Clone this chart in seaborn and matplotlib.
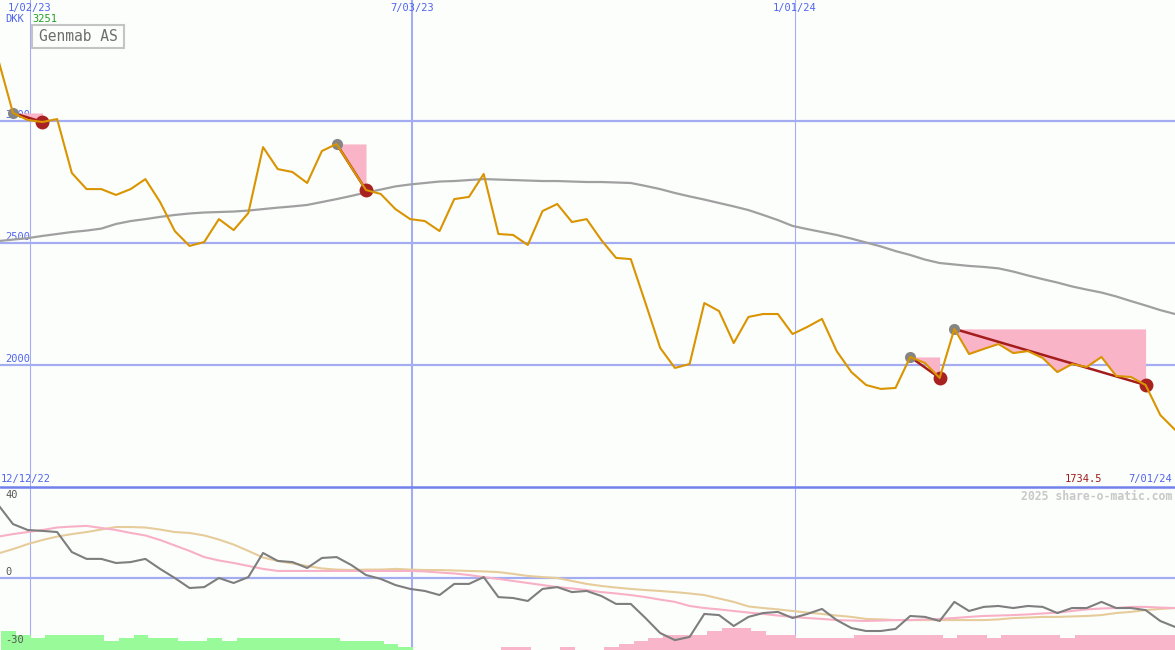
import pandas as pd
import numpy as np
import seaborn as sns
import matplotlib.pyplot as plt
from matplotlib.patches import Rectangle
from matplotlib.lines import Line2D

# --- data: weekly points, first one sits just left of the frame ---
first_week = "2022-12-18"

price = [3251, 3033, 3004, 2996, 3008, 2787, 2721, 2721, 2697, 2721,
         2762, 2668, 2549, 2488, 2504, 2598, 2553, 2623, 2893, 2803,
         2791, 2746, 2877, 2906, 2811, 2717, 2701, 2639, 2598, 2590,
         2549, 2680, 2689, 2783, 2537, 2533, 2492, 2631, 2660, 2586,
         2598, 2512, 2439, 2434, 2254, 2070, 1988, 2004, 2254, 2221,
         2090, 2197, 2209, 2209, 2127, 2156, 2189, 2057, 1971, 1918,
         1902, 1906, 2033, 2008, 1947, 2148, 2045, 2066, 2086, 2049,
         2057, 2029, 1971, 2004, 1992, 2033, 1955, 1951, 1918, 1795, 1734.5]

moving_avg = [2508, 2514, 2520, 2529, 2537, 2545, 2551, 2559, 2578, 2590,
              2598, 2607, 2615, 2621, 2625, 2627, 2629, 2633, 2639, 2645,
              2650, 2656, 2668, 2680, 2693, 2707, 2719, 2732, 2740, 2746,
              2752, 2754, 2758, 2762, 2760, 2758, 2756, 2754, 2754, 2752,
              2750, 2750, 2748, 2746, 2734, 2721, 2705, 2691, 2678, 2664,
              2650, 2635, 2615, 2594, 2570, 2557, 2545, 2533, 2518, 2502,
              2486, 2467, 2451, 2432, 2418, 2412, 2406, 2402, 2396, 2383,
              2367, 2352, 2338, 2322, 2309, 2297, 2281, 2262, 2244, 2225, 2209]

momentum = [32.1, 23.7, 21.1, 20.7, 20.2, 11.4, 8.4, 8.4, 6.6, 7.0,
            8.4, 4.0, 0.0, -4.4, -4.0, 0.0, -2.2, 0.4, 11.0, 7.5,
            7.0, 4.4, 8.8, 9.2, 5.7, 1.3, -0.4, -3.1, -4.8, -5.7,
            -7.5, -2.6, -2.6, 0.4, -8.4, -8.8, -10.1, -4.8, -4.0, -6.2,
            -5.7, -7.9, -11.4, -11.4, -17.6, -24.2, -27.3, -25.9, -15.8, -16.3,
            -21.1, -17.1, -15.4, -14.9, -17.6, -15.8, -13.6, -18.5, -22.0, -23.3,
            -23.3, -22.4, -16.7, -17.1, -18.9, -10.5, -14.5, -12.7, -12.3, -13.2,
            -12.3, -12.7, -15.4, -13.2, -13.2, -10.5, -13.2, -13.2, -14.1, -18.9, -21.5]

signal_fast = [18.2, 19.3, 20.2, 21.1, 22.2, 22.6, 22.9, 22.0, 21.1, 19.8,
               18.7, 16.7, 14.3, 11.9, 9.2, 7.7, 6.6, 5.3, 4.0, 3.1,
               3.1, 3.1, 3.1, 3.1, 3.1, 3.1, 3.1, 3.1, 3.1, 2.9,
               2.4, 2.0, 1.3, 0.4, -0.4, -1.3, -2.2, -3.1, -4.0, -4.6,
               -5.3, -6.2, -6.8, -7.5, -8.4, -9.5, -10.5, -12.3, -13.2, -13.8,
               -14.5, -15.2, -15.8, -16.5, -17.1, -17.6, -18.0, -18.5, -18.7, -18.9,
               -18.7, -18.5, -18.5, -18.2, -18.0, -17.6, -17.1, -16.7, -16.5, -16.3,
               -16.0, -15.6, -15.2, -14.5, -13.8, -13.4, -13.2, -12.7, -12.7, -13.0, -13.2]

signal_slow = [10.8, 12.7, 14.9, 16.7, 18.2, 19.3, 20.2, 21.3, 22.4, 22.4,
               22.2, 21.3, 20.2, 19.8, 18.7, 16.9, 14.7, 11.9, 9.0, 7.5,
               6.4, 5.3, 4.2, 3.7, 3.5, 3.7, 3.7, 4.0, 3.7, 3.5,
               3.5, 3.3, 3.1, 2.9, 2.6, 1.8, 0.9, 0.4, 0.0, -1.3,
               -2.6, -3.5, -4.2, -4.8, -5.3, -5.7, -6.2, -6.8, -7.5, -9.0,
               -10.5, -12.5, -13.2, -13.8, -14.5, -15.2, -15.8, -16.5, -17.1, -18.0,
               -18.2, -18.5, -18.5, -18.5, -18.5, -18.5, -18.5, -18.5, -18.2, -17.6,
               -17.4, -17.1, -17.1, -16.9, -16.7, -16.3, -15.4, -14.9, -14.1, -13.6, -13.2]

# trend bars along the bottom: top level and colour key (g = up, p = down, "" = none)
bar_level = [-23.3, -25.1, -26.2, -25.1, -25.1, -25.1, -25.1, -27.7, -26.2, -25.1,
             -26.2, -26.2, -27.7, -27.7, -26.2, -27.7, -26.2, -26.2, -26.2, -26.2,
             -26.2, -26.2, -26.2, -27.7, -27.7, -27.7, -29.0, -30.2, np.nan, np.nan,
             np.nan, np.nan, np.nan, np.nan, -30.5, -30.5, np.nan, np.nan, -30.5, np.nan,
             np.nan, -30.5, -29.1, -27.8, -26.5, -25.2, -25.2, -25.2, -23.4, -22.0,
             -22.0, -23.4, -25.2, -25.2, -26.2, -26.2, -26.2, -26.2, -25.2, -25.2,
             -25.2, -25.2, -25.2, -25.2, -26.2, -25.1, -25.1, -26.2, -25.1, -25.1,
             -25.1, -25.1, -26.2, -25.1, -25.1, -25.1, -25.1, -25.1, -25.1, -25.1, -25.1]
bar_trend = ["g"] * 28 + [""] * 6 + ["p"] * 47

# sell signals: peak week -> trough week
signal_start = ["2022-12-25", "2023-05-28", "2024-02-25", "2024-03-17"]
signal_end = ["2023-01-08", "2023-06-11", "2024-03-10", "2024-06-16"]

date_lines = ["2023-01-02", "2023-07-03", "2024-01-01"]
date_labels = ["1/02/23", "7/03/23", "1/01/24"]
price_grid = [3000, 2500, 2000]

# --- styling ---
BG = "#fcfefc"
GRID = "#a4adf2"
BLUE_TXT = "#5064ee"
PRICE_C = "#d99400"
MA_C = "#a0a0a0"
PINK = "#f9b4c8"
DARKRED = "#a41c1c"

sns.set_theme(style="white")
plt.rcParams["font.family"] = ["DejaVu Sans Mono", "DejaVu Sans"]

dates = pd.date_range(first_week, periods=len(price), freq="7D")
df = pd.DataFrame({"date": dates, "price": price, "ma": moving_avg,
                   "mom": momentum, "fast": signal_fast, "slow": signal_slow,
                   "bar": bar_level, "trend": bar_trend})

W, H = 1175, 650
fig = plt.figure(figsize=(W / 100, H / 100), dpi=100, facecolor=BG)
ax = fig.add_axes([0, 163 / H, 1, 487 / H])
ax2 = fig.add_axes([0, 0, 1, 163 / H], sharex=ax)

for a in (ax, ax2):
    a.set_facecolor(BG)
    for s in a.spines.values():
        s.set_visible(False)

xmin = pd.Timestamp("2022-12-18 19:30")
xmax = pd.Timestamp("2024-06-30")

# --- top panel: price ---
for v in price_grid:
    ax.axhline(v, color=GRID, lw=1.6, zorder=1)
for d, lw in zip(date_lines, [0.8, 1.5, 0.8]):
    ax.axvline(pd.Timestamp(d), color=GRID, lw=lw, zorder=1)
    ax2.axvline(pd.Timestamp(d), color=GRID, lw=lw, zorder=1)

sns.lineplot(data=df, x="date", y="ma", ax=ax, color=MA_C, lw=1.6, zorder=2)

for s, e in zip(signal_start, signal_end):
    seg = df[(df["date"] >= s) & (df["date"] <= e)]
    p0 = seg["price"].iloc[0]
    ax.fill_between(seg["date"], seg["price"], p0, color=PINK, lw=0, zorder=3)
    ends = seg.iloc[[0, -1]]
    ax.plot(ends["date"], ends["price"], color=DARKRED, lw=1.8, zorder=4)
    ax.plot(ends["date"].iloc[:1], ends["price"].iloc[:1], "o", color="#858585",
            ms=8, mew=0, zorder=5)
    ax.plot(ends["date"].iloc[1:], ends["price"].iloc[1:], "o", color="#a82222",
            ms=10, mew=0, zorder=5)

sns.lineplot(data=df, x="date", y="price", ax=ax, color=PRICE_C, lw=1.5, zorder=6)

ax.set_xlim(xmin, xmax)
ax.set_ylim(1500, 3496)
ax.set_xlabel("")
ax.set_ylabel("")
ax.set_xticks([])
ax.set_yticks([])

tx = ax.get_xaxis_transform()
for d, lab in zip(date_lines, date_labels):
    ax.text(pd.Timestamp(d), 1 - 8 / 487, lab, transform=tx, ha="center",
            va="center", fontsize=7.5, color=BLUE_TXT)
for v in price_grid:
    ax.annotate(str(v), xy=(5 / W, v), xycoords=("axes fraction", "data"),
                xytext=(0, 1), textcoords="offset points", ha="left",
                va="bottom", fontsize=7.5, color=BLUE_TXT, zorder=0)

fig.text(5 / W, 1 - 19 / H, "DKK", ha="left", va="center", fontsize=7.5, color=BLUE_TXT)
fig.text(32 / W, 1 - 19 / H, "3251", ha="left", va="center", fontsize=7.5, color="#22a022")
fig.add_artist(Rectangle((32 / W, 1 - 48 / H), 92 / W, 23 / H, transform=fig.transFigure,
                         fc=BG, ec="#c4c4c4", lw=1.5, zorder=10))
fig.text(78 / W, 1 - 36.5 / H, "Genmab AS", ha="center", va="center", fontsize=10.5,
         color="#6e6e6e", zorder=11)

fig.text(1 / W, 1 - 479 / H, "12/12/22", ha="left", va="center", fontsize=7.5, color=BLUE_TXT)
fig.text(1102 / W, 1 - 479 / H, "1734.5", ha="right", va="center", fontsize=7.5, color="#a01c1c")
fig.text(1172 / W, 1 - 479 / H, "7/01/24", ha="right", va="center", fontsize=7.5, color=BLUE_TXT)

# --- bottom panel: oscillator ---
ax2.axhline(0, color=GRID, lw=1.6, zorder=1)
low = -31.65
for trend, col in [("g", "#98fa98"), ("p", "#f9b6ca")]:
    sub = df[df["trend"] == trend].dropna(subset=["bar"])
    ax2.bar(sub["date"] + pd.Timedelta(days=1.4), sub["bar"] - low, bottom=low,
            width=7, align="edge", color=col, lw=0, zorder=2)

sns.lineplot(data=df, x="date", y="slow", ax=ax2, color="#e6cc9a", lw=1.5, zorder=3)
sns.lineplot(data=df, x="date", y="fast", ax=ax2, color="#f8b0c6", lw=1.5, zorder=4)
sns.lineplot(data=df, x="date", y="mom", ax=ax2, color="#7e7e7e", lw=1.5, zorder=5)

ax2.set_xlim(xmin, xmax)
ax2.set_ylim(low, 40)
ax2.set_xlabel("")
ax2.set_ylabel("")
ax2.set_xticks([])
ax2.set_yticks([])

for v, va, dy in [(40, "top", -2), (0, "bottom", 1), (-30, "bottom", 1)]:
    ax2.annotate(str(v), xy=(5 / W, v), xycoords=("axes fraction", "data"),
                 xytext=(0, dy), textcoords="offset points", ha="left",
                 va=va, fontsize=7.5, color="#555555", zorder=6)

fig.add_artist(Line2D([0, 1], [163 / H, 163 / H], transform=fig.transFigure,
                      color="#7282ec", lw=1.8, zorder=12))
fig.text(1172 / W, 1 - 496 / H, "2025 share-o-matic.com", ha="right", va="center",
         fontsize=8.3, fontweight="bold", color="#c8c8c8")

fig.savefig("out.png", dpi=100, facecolor=BG)
